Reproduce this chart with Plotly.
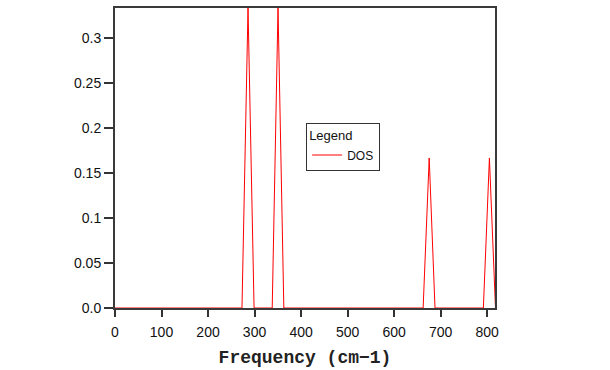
import plotly.graph_objects as go

# DOS spectrum (frequency in cm-1, density of states)
freq = [0, 273, 286, 299, 338, 350.5, 363, 662.5, 675.5, 688, 792, 805, 818]
dos = [0, 0, 0.3333, 0, 0, 0.3333, 0, 0, 0.1667, 0, 0, 0.1667, 0]

x_ticks = [0, 100, 200, 300, 400, 500, 600, 700, 800]
y_ticks = [0.0, 0.05, 0.1, 0.15, 0.2, 0.25, 0.3]
y_tick_labels = ["0.0", "0.05", "0.1", "0.15", "0.2", "0.25", "0.3"]

fig = go.Figure()
fig.add_trace(go.Scatter(x=freq, y=dos, mode="lines", name="DOS",
                         line=dict(color="#ff0000", width=1)))

fig.update_layout(
    width=610, height=370,
    margin=dict(l=115, r=115, t=6, b=60),
    paper_bgcolor="white", plot_bgcolor="white",
    font=dict(family="Liberation Sans, Arial, sans-serif", size=14, color="#111"),
    showlegend=True,
    legend=dict(
        title=dict(text="Legend", font=dict(size=13)),
        font=dict(size=12),
        x=0.503, y=0.618, xanchor="left", yanchor="top",
        bordercolor="#333", borderwidth=1, bgcolor="white",
        itemwidth=30, tracegroupgap=0,
    ),
    xaxis=dict(
        range=[0, 817], tickvals=x_ticks, ticks="outside", ticklen=7,
        ticklabelstandoff=3, layer="above traces",
        tickcolor="#333", tickwidth=1.5, linecolor="#3a3a3a", linewidth=2, mirror=True,
        showgrid=False, zeroline=False, showline=True,
        title=dict(text="<b>Frequency (cm\u22121)</b>",
                   font=dict(family="Liberation Mono, Courier New, monospace", size=18, color="#222"),
                   standoff=12),
    ),
    yaxis=dict(
        range=[0, 0.3333], tickvals=y_ticks, ticktext=y_tick_labels,
        ticks="outside", ticklen=9, tickcolor="#333", tickwidth=1.5,
        linecolor="#3a3a3a", layer="above traces",
        linewidth=2, mirror=True, showgrid=False, zeroline=False, showline=True,
    ),
)

fig.write_html("out.html", config={"displayModeBar": False},
               post_script="document.body.style.margin='0';")
